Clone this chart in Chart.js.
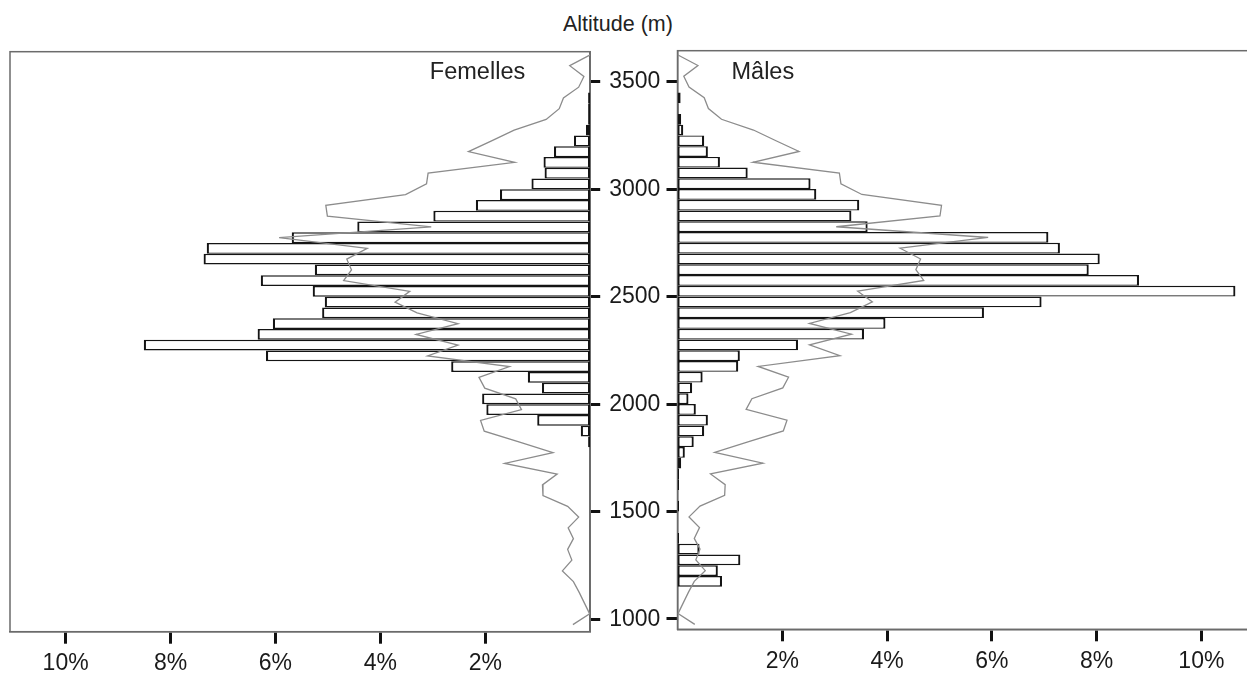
<!DOCTYPE html>
<html lang="fr">
<head>
  <meta charset="UTF-8">
  <title>Répartition altitudinale des femelles et des mâles</title>
  <script src="https://cdn.jsdelivr.net/npm/chart.js"></script>
  <style>
    html, body { margin: 0; padding: 0; background: #fff; overflow: hidden; }
    body { width: 1247px; height: 673px; position: relative; font-family: 'Liberation Sans', Arial, sans-serif; }
    canvas { position: absolute; top: 0; }
    #gauche { left: 0; }
    #droite { left: 660px; }
    /* titre commun de l'axe vertical */
    #titre {
      position: absolute; left: 563px; top: 13.5px;
      font-size: 21.5px; line-height: 21.5px; color: #222; white-space: nowrap;
    }
  </style>
</head>
<body>
  <div id="titre">Altitude (m)</div>
  <canvas id="gauche" width="668" height="673"></canvas>
  <canvas id="droite" width="600" height="673"></canvas>

  <script>
    // Centres des tranches d'altitude de 50 m, du haut vers le bas
    const altitudes = [
      3625, 3575, 3525, 3475, 3425, 3375, 3325, 3275, 3225, 3175,
      3125, 3075, 3025, 2975, 2925, 2875, 2825, 2775, 2725, 2675,
      2625, 2575, 2525, 2475, 2425, 2375, 2325, 2275, 2225, 2175,
      2125, 2075, 2025, 1975, 1925, 1875, 1825, 1775, 1725, 1675,
      1625, 1575, 1525, 1475, 1425, 1375, 1325, 1275, 1225, 1175,
      1125, 1075, 1025, 975
    ];

    // Pourcentage des femelles par tranche (null = aucune observation)
    const femelles = [
      null, null, null, null, 0.04, 0.04, 0.04, 0.08, 0.31, 0.69,
      0.89, 0.87, 1.12, 1.72, 2.18, 2.99, 4.44, 5.69, 7.31, 7.37,
      5.25, 6.28, 5.29, 5.06, 5.11, 6.05, 6.34, 8.51, 6.18, 2.65,
      1.19, 0.92, 2.06, 1.98, 1.01, 0.18, 0.04, null, null, null,
      null, null, null, null, null, null, null, null, null, null,
      null, null, null, null
    ];

    // Pourcentage des mâles par tranche
    const males = [
      null, null, null, null, 0.06, 0.02, 0.07, 0.11, 0.51, 0.58,
      0.81, 1.34, 2.54, 2.65, 3.47, 3.32, 3.63, 7.08, 7.30, 8.06,
      7.85, 8.81, 10.65, 6.95, 5.85, 3.97, 3.56, 2.30, 1.19, 1.16,
      0.48, 0.28, 0.21, 0.35, 0.58, 0.51, 0.31, 0.14, 0.07, 0.03,
      0.03, null, 0.03, null, null, 0.03, 0.42, 1.20, 0.77, 0.85,
      null, null, null, null
    ];

    // Courbe grise : répartition du territoire par tranche (%), identique des deux côtés
    const habitat = [
      0.00, 0.39, 0.12, 0.22, 0.51, 0.59, 0.84, 1.45, 1.88, 2.32,
      1.44, 3.09, 3.12, 3.52, 5.04, 5.01, 3.03, 5.93, 4.25, 4.64,
      4.55, 4.70, 3.44, 3.72, 3.30, 2.52, 3.32, 2.52, 3.10, 1.54,
      2.12, 2.01, 1.42, 1.31, 2.09, 2.02, 1.36, 0.71, 1.63, 0.63,
      0.91, 0.90, 0.43, 0.22, 0.42, 0.32, 0.43, 0.35, 0.53, 0.32,
      0.21, 0.11, 0.01, 0.33
    ];

    // Graduations
    const paliers = [1000, 1500, 2000, 2500, 3000, 3500];
    const pourcents = [2, 4, 6, 8, 10];

    const police = "'Liberation Sans', Arial, sans-serif";
    Chart.defaults.font.family = police;

    const barres = serie => altitudes
      .map((alt, i) => ({ x: serie[i], y: alt }))
      .filter(p => p.x !== null);

    const courbe = altitudes.map((alt, i) => ({ x: habitat[i], y: alt }));

    // Cadre gris autour de la zone de tracé + nom du panneau
    const cadre = {
      id: 'cadre',
      beforeDatasetsDraw(chart) {
        const { ctx, chartArea: a } = chart;
        ctx.save();
        ctx.strokeStyle = '#6b6b6b';
        ctx.lineWidth = 1.5;
        ctx.strokeRect(a.left, a.top, a.right - a.left, a.bottom - a.top);
        ctx.restore();
      },
      afterDraw(chart, args, opts) {
        const { ctx, chartArea: a } = chart;
        ctx.save();
        ctx.font = '23.5px ' + police;
        ctx.fillStyle = '#222';
        ctx.textAlign = opts.align;
        ctx.textBaseline = 'alphabetic';
        const x = opts.align === 'right' ? a.right - opts.dx : a.left + opts.dx;
        ctx.fillText(opts.texte, x, a.top + opts.dy);
        ctx.restore();
      }
    };

    function panneau(id, serie, p) {
      return new Chart(document.getElementById(id), {
        type: 'bar',
        data: {
          datasets: [
            {
              type: 'line',
              data: courbe,
              borderColor: '#8c8c8c',
              borderWidth: 1.3,
              pointRadius: 0,
              tension: 0,
              fill: false
            },
            {
              type: 'bar',
              data: barres(serie),
              backgroundColor: '#ffffff',
              borderColor: '#141414',
              borderWidth: p.bords,
              borderSkipped: false,
              inflateAmount: 0,
              categoryPercentage: 1,
              barPercentage: 1
            }
          ]
        },
        options: {
          indexAxis: 'y',
          responsive: false,
          animation: false,
          events: [],
          layout: { padding: p.marges },
          plugins: {
            legend: { display: false },
            tooltip: { enabled: false },
            cadre: p.etiquette
          },
          scales: {
            x: {
              type: 'linear',
              position: 'bottom',
              reverse: p.inverse,
              min: 0,
              max: p.maxX,
              afterBuildTicks: s => { s.ticks = pourcents.map(v => ({ value: v })); },
              afterFit: s => { s.height = p.hautAxeX; },
              border: { color: '#6b6b6b', width: 1.5 },
              grid: { drawOnChartArea: false, tickLength: 12, tickColor: '#111', tickWidth: 3 },
              ticks: {
                padding: p.padX, color: '#1a1a1a', font: { size: 23 },
                autoSkip: false, maxRotation: 0,
                callback: v => v + '%'
              }
            },
            y: {
              type: 'linear',
              position: p.coteY,
              min: p.minY,
              max: p.maxY,
              offset: false,
              afterBuildTicks: s => { s.ticks = paliers.map(v => ({ value: v })); },
              afterFit: s => { s.width = p.largAxeY; },
              border: { color: '#6b6b6b', width: 1.5 },
              grid: { offset: false, drawOnChartArea: false, tickLength: p.tickY, tickColor: '#111', tickWidth: 3 },
              ticks: {
                display: p.labelsY, padding: 9, color: '#1a1a1a', font: { size: 23 },
                autoSkip: false,
                callback: v => String(v)
              }
            }
          }
        },
        plugins: [cadre]
      });
    }

    // Panneau gauche : femelles, barres vers la gauche
    panneau('gauche', femelles, {
      inverse: true, maxX: 11.06, minY: 942, maxY: 3640,
      coteY: 'right', largAxeY: 77.8, tickY: 10, labelsY: true,
      hautAxeX: 41.3, padX: 6,
      marges: { left: 10, top: 51.7, right: 0, bottom: 0 },
      bords: { top: 1.4, bottom: 1.4, left: 2.2, right: 2.2 },
      etiquette: { texte: 'Femelles', align: 'right', dx: 65, dy: 27.6 }
    });

    // Panneau droit : mâles, barres vers la droite
    panneau('droite', males, {
      inverse: false, maxX: 10.89, minY: 952, maxY: 3644,
      coteY: 'left', largAxeY: 17.5, tickY: 11, labelsY: false,
      hautAxeX: 43.7, padX: 7,
      marges: { left: 0, top: 50.7, right: 12, bottom: 0 },
      bords: { top: 1.4, bottom: 1.4, left: 2.2, right: 2.2 },
      etiquette: { texte: 'Mâles', align: 'left', dx: 54, dy: 28.6 }
    });
  </script>
</body>
</html>
